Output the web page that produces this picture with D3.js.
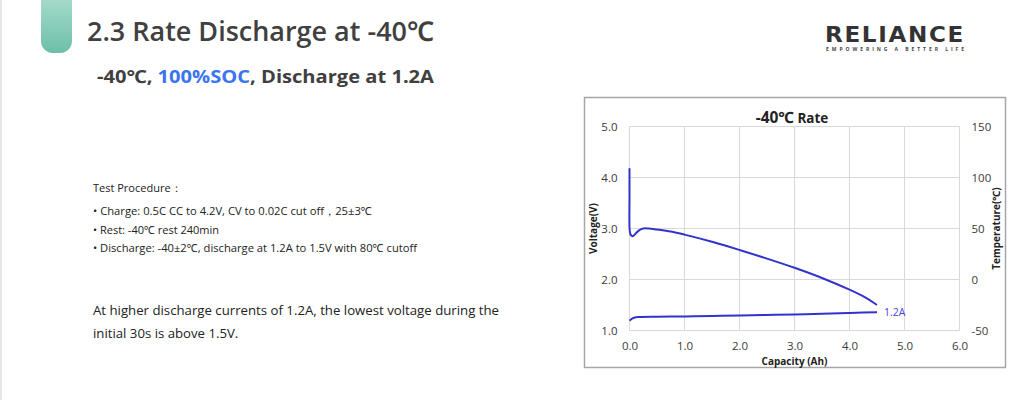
<!DOCTYPE html>
<html><head><meta charset="utf-8">
<script src="https://cdn.jsdelivr.net/npm/d3@7"></script>
<style>
html,body{margin:0;padding:0;background:#fff;}
svg{display:block;}
</style></head>
<body>
<svg id="c" width="1024" height="400"></svg>
<script>
// ---- data ----
const capacityV = [0.0, 0.0, 0.003, 0.02, 0.06, 0.12, 0.18, 0.25, 0.35, 0.5, 0.75, 1.0, 1.5, 2.0, 2.5, 3.0, 3.5, 4.0, 4.3, 4.5];
const voltage   = [4.18, 3.6, 2.97, 2.88, 2.85, 2.91, 2.97, 3.0, 3.0, 2.98, 2.94, 2.88, 2.74, 2.58, 2.41, 2.23, 2.03, 1.80, 1.64, 1.50];
const capacityT = [0.0, 0.03, 0.08, 0.16, 0.5, 1.0, 1.5, 2.0, 2.5, 3.0, 3.5, 4.0, 4.5];
const temperature = [-40.5, -39.0, -37.5, -36.8, -36.5, -36.2, -35.8, -35.3, -34.8, -34.2, -33.6, -32.8, -32.0];
const xTicks = [0, 1, 2, 3, 4, 5, 6];
const yTicks = [1, 2, 3, 4, 5];
const tTicks = [-50, 0, 50, 100, 150];
const seriesLabel = "1.2A";
const procedure = [
  "• Charge: 0.5C CC to 4.2V, CV to 0.02C cut off，25±3℃",
  "• Rest: -40℃ rest 240min",
  "• Discharge: -40±2℃, discharge at 1.2A to 1.5V with 80℃ cutoff"
];

const svg = d3.select("#c");
const font = "'Open Sans','Noto Sans',sans-serif";

// page left border
svg.append("rect").attr("x",0).attr("y",0).attr("width",2).attr("height",400).attr("fill","#e8e8e8");

// green tab
const defs = svg.append("defs");
const g1 = defs.append("linearGradient").attr("id","tab").attr("x1",0).attr("y1",0).attr("x2",0).attr("y2",1);
g1.append("stop").attr("offset","0%").attr("stop-color","#a9dccd");
g1.append("stop").attr("offset","100%").attr("stop-color","#6cbfa9");
svg.append("path").attr("d","M41,-5 H72 V41 A12,12 0 0 1 60,53 H53 A12,12 0 0 1 41,41 Z").attr("fill","url(#tab)");

// titles
svg.append("text").attr("x",87).attr("y",41).attr("font-family",font).attr("font-weight",600)
  .attr("font-size",27).attr("fill","#404040").attr("textLength",347).attr("lengthAdjust","spacingAndGlyphs")
  .text("2.3 Rate Discharge at -40℃");
const sub = svg.append("text").attr("x",97).attr("y",83).attr("font-family",font).attr("font-weight",700)
  .attr("font-size",18).attr("fill","#404040").attr("textLength",337).attr("lengthAdjust","spacingAndGlyphs");
sub.append("tspan").text("-40℃, ");
sub.append("tspan").attr("fill","#3a74f0").text("100%SOC");
sub.append("tspan").text(", Discharge at 1.2A");

// logo
svg.append("text").attr("x",895).attr("y",42).attr("text-anchor","middle").attr("font-family","'DejaVu Sans',sans-serif")
  .attr("font-weight",700).attr("font-size",21).attr("letter-spacing",1.5).attr("fill","#333")
  .attr("textLength",140).attr("lengthAdjust","spacingAndGlyphs").text("RELIANCE");
svg.append("text").attr("x",895).attr("y",51).attr("text-anchor","middle").attr("font-family",font)
  .attr("font-weight",700).attr("font-size",5).attr("fill","#444")
  .attr("textLength",138).attr("lengthAdjust","spacing").text("EMPOWERING A BETTER LIFE");

// procedure text
svg.append("text").attr("x",93).attr("y",192).attr("font-family",font).attr("font-size",11).attr("fill","#222").text("Test Procedure：");
const procW = [279, 0, 0];
procedure.forEach((t,i)=>{
  const el = svg.append("text").attr("x",93).attr("y",215+i*18.5).attr("font-family",font).attr("font-size",11).attr("fill","#222").text(t);
  if (i===0) el.attr("textLength",279).attr("lengthAdjust","spacingAndGlyphs");
  if (i===2) el.attr("textLength",324).attr("lengthAdjust","spacingAndGlyphs");
});
svg.append("text").attr("x",93).attr("y",315).attr("font-family",font).attr("font-size",13.2).attr("fill","#222")
  .attr("textLength",406).attr("lengthAdjust","spacingAndGlyphs")
  .text("At higher discharge currents of 1.2A, the lowest voltage during the");
svg.append("text").attr("x",93).attr("y",338).attr("font-family",font).attr("font-size",13.2).attr("fill","#222")
  .text("initial 30s is above 1.5V.");

// chart box
svg.append("rect").attr("x",584.5).attr("y",97.5).attr("width",421).attr("height",270)
  .attr("fill","#fff").attr("stroke","#a6a6a6").attr("stroke-width",1.5);

const x = d3.scaleLinear().domain([0,6]).range([629.5,959.5]);
const y = d3.scaleLinear().domain([1,5]).range([330.5,126.5]);
const yt = d3.scaleLinear().domain([-50,150]).range([330.5,126.5]);

// grid
const grid = svg.append("g");
xTicks.forEach(v=>grid.append("line").attr("x1",x(v)).attr("x2",x(v)).attr("y1",y(1)).attr("y2",y(5)).attr("stroke","#d9d9d9"));
yTicks.forEach(v=>grid.append("line").attr("x1",x(0)).attr("x2",x(6)).attr("y1",y(v)).attr("y2",y(v)).attr("stroke","#d9d9d9"));

// axes via d3
const ax = svg.append("g").attr("transform",`translate(0,${y(1)})`)
  .call(d3.axisBottom(x).tickValues(xTicks).tickFormat(d3.format(".1f")).tickSize(0).tickPadding(11));
const ayl = svg.append("g").attr("transform",`translate(${x(0)},0)`)
  .call(d3.axisLeft(y).tickValues(yTicks).tickFormat(d3.format(".1f")).tickSize(0).tickPadding(12));
const ayr = svg.append("g").attr("transform",`translate(${x(6)},0)`)
  .call(d3.axisRight(yt).tickValues(tTicks).tickFormat(d=>String(d)).tickSize(0).tickPadding(12));
[ax,ayl,ayr].forEach(a=>{
  a.select(".domain").remove();
  a.selectAll("text").attr("font-family",font).attr("font-size",11.5).attr("font-weight",500).attr("fill","#3a3a3a");
});

// titles
const ct = svg.append("text").attr("x",792).attr("y",123).attr("text-anchor","middle").attr("font-family",font)
  .attr("font-weight",700).attr("font-size",13.5).attr("fill","#222");
ct.append("tspan").attr("font-size",15.5).text("-40℃");
ct.append("tspan").text(" Rate");
svg.append("text").attr("x",x(3)).attr("y",365).attr("text-anchor","middle").attr("font-family",font)
  .attr("font-weight",700).attr("font-size",10).attr("fill","#222").text("Capacity (Ah)");
svg.append("text").attr("transform",`translate(597,${y(3)}) rotate(-90)`).attr("text-anchor","middle").attr("font-family",font)
  .attr("font-weight",700).attr("font-size",10).attr("fill","#222").text("Voltage(V)");
svg.append("text").attr("transform",`translate(1000,${y(3)}) rotate(-90)`).attr("text-anchor","middle").attr("font-family",font)
  .attr("font-weight",700).attr("font-size",10).attr("fill","#222").text("Temperature(℃)");

// lines
const lineT = d3.line().x(d=>x(d[0])).y(d=>yt(d[1])).curve(d3.curveMonotoneX);
svg.append("path").datum(d3.zip(capacityV,voltage)).attr("d",d3.line().x(d=>x(d[0])).y(d=>y(d[1])).curve(d3.curveCatmullRom.alpha(0.5)))
  .attr("fill","none").attr("stroke","#3333cc").attr("stroke-width",2);
svg.append("path").datum(d3.zip(capacityT,temperature)).attr("d",lineT)
  .attr("fill","none").attr("stroke","#3333cc").attr("stroke-width",2);
svg.append("text").attr("x",x(capacityT[capacityT.length-1])+7).attr("y",yt(temperature[temperature.length-1])+4)
  .attr("font-family",font).attr("font-size",10.5).attr("fill","#4646dc").text(seriesLabel);
</script>
</body></html>
